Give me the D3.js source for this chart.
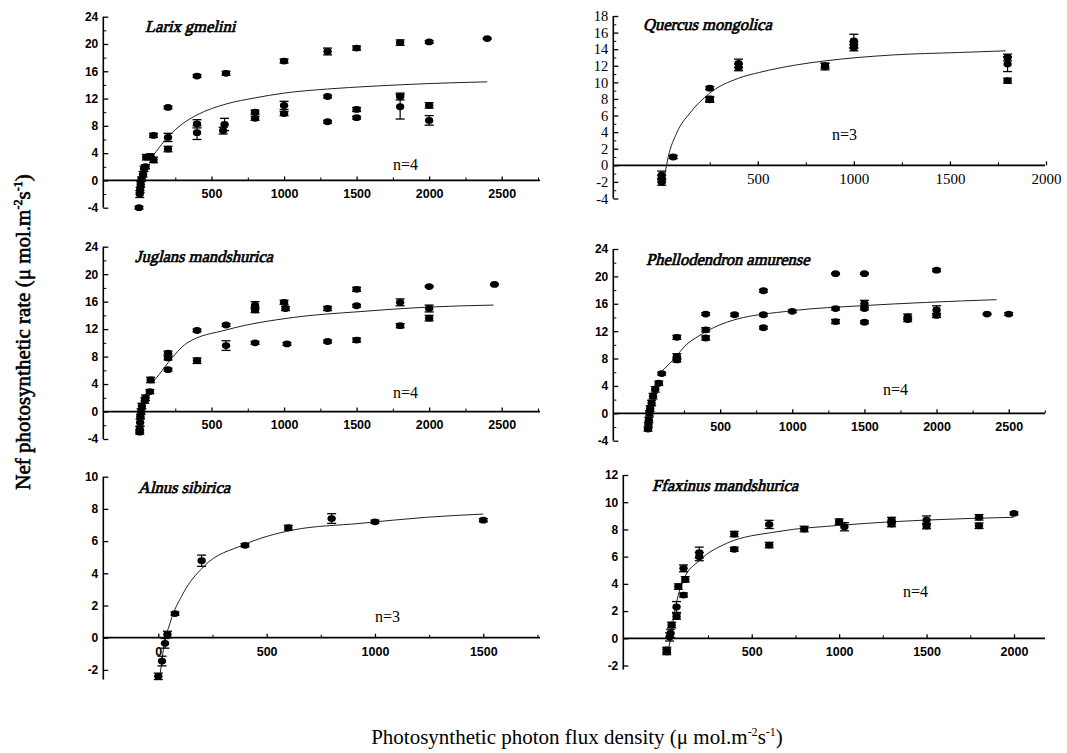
<!DOCTYPE html>
<html>
<head>
<meta charset="utf-8">
<script src="https://cdn.jsdelivr.net/npm/d3@7/dist/d3.min.js"></script>
<style>
  body { margin: 0; background: #fff; }
</style>
</head>
<body>
<div id="chart"></div>
<script>
// light response curves, six species; points are [PPFD, Pn, error]
const titles = ["Larix gmelini", "Quercus mongolica", "Juglans mandshurica",
                "Phellodendron amurense", "Alnus sibirica", "Ffaxinus mandshurica"]
const notes = ["n=4", "n=3", "n=4", "n=4", "n=3", "n=4"]

const larixPts = [[0,-4.0,0.2],[5,-2.0,0.5],[8,-1.4,0.4],[12,-0.6,0.4],[18,0.2,0.3],[28,0.9,0.4],
  [35,1.7,0.4],[45,2.0,0.3],[50,3.4,0.4],[80,3.5,0.4],[100,3.0,0.4],[100,6.6,0.3],
  [200,10.7,0.2],[200,6.3,0.6],[200,4.6,0.4],[400,15.3,0.2],[400,8.3,0.6],[400,7.0,1.0],
  [600,15.7,0.3],[590,8.2,0.9],[580,7.3,0.5],[800,10.0,0.3],[800,9.1,0.3],
  [1000,17.5,0.3],[1000,11.0,0.6],[1000,9.8,0.3],[1300,18.9,0.5],[1300,12.3,0.2],[1300,8.6,0.2],
  [1500,19.4,0.3],[1500,10.4,0.3],[1500,9.2,0.2],[1800,20.2,0.4],[1800,12.3,0.5],[1800,10.8,1.8],
  [2000,20.3,0.2],[2000,11.0,0.4],[2000,8.8,0.7],[2400,20.8,0.1]]
const larixFit = [[110,4.0],[200,6.4],[300,8.3],[400,9.6],[600,11.2],[800,12.1],[1000,12.8],
  [1300,13.4],[1600,13.8],[2000,14.2],[2400,14.45]]

const quercusPts = [[0,-1.2,0.5],[0,-1.6,0.4],[0,-2.0,0.4],[60,1.0,0.2],[250,9.3,0.2],[250,8.0,0.3],
  [250,7.9,0.3],[400,12.3,0.5],[400,11.8,0.4],[850,11.9,0.4],[850,12.0,0.3],[1000,15.0,0.8],
  [1000,14.5,0.4],[1000,14.2,0.4],[1800,13.0,0.4],[1800,12.2,0.9],[1800,10.2,0.3]]
const quercusFit = [[5,-2.5],[17,-1.0],[34,1.0],[78,3.9],[147,6.3],[250,8.7],[400,10.5],
  [509,11.2],[700,12.1],[855,12.6],[1200,13.3],[1546,13.6],[1790,13.8]]

const juglansPts = [[5,-3.0,0.3],[5,-2.6,0.4],[8,-1.6,0.5],[10,-0.7,0.3],[15,0.0,0.4],[20,0.8,0.4],
  [40,1.6,0.4],[45,2.0,0.4],[75,2.9,0.3],[80,4.6,0.4],[200,8.5,0.3],[200,7.8,0.3],[200,6.1,0.2],
  [400,11.8,0.2],[400,7.4,0.4],[600,12.6,0.2],[600,9.6,0.7],[800,15.5,0.5],[800,14.8,0.4],
  [800,10.0,0.2],[1000,15.9,0.3],[1010,15.0,0.3],[1020,9.85,0.2],[1300,15.0,0.3],[1300,10.2,0.2],
  [1500,17.8,0.3],[1500,15.4,0.2],[1500,10.4,0.3],[1800,15.9,0.5],[1800,12.5,0.3],
  [2000,18.2,0.1],[2000,15.0,0.5],[2000,13.6,0.4],[2450,18.5,0.1]]
const juglansFit = [[90,4.2],[120,4.9],[200,7.1],[329,9.95],[605,11.9],[1064,13.7],[1524,14.55],
  [1984,15.2],[2444,15.5]]

const phelloPts = [[0,-2.3,0.3],[3,-1.7,0.4],[6,-1.0,0.4],[10,0.0,0.4],[15,0.7,0.4],[25,1.5,0.4],
  [35,2.5,0.4],[50,3.5,0.4],[75,4.4,0.3],[95,5.8,0.2],[200,11.1,0.3],[200,8.3,0.4],[200,7.8,0.3],
  [400,14.5,0.2],[400,12.2,0.3],[400,11.0,0.3],[600,14.4,0.2],[800,17.9,0.2],[800,14.4,0.2],
  [800,12.5,0.2],[1000,14.9,0.2],[1300,20.4,0.1],[1300,15.3,0.2],[1300,13.4,0.3],
  [1500,20.4,0.1],[1500,16.0,0.5],[1500,15.3,0.2],[1500,13.3,0.2],[1800,14.1,0.4],[1800,13.7,0.3],
  [2000,20.9,0.2],[2000,15.1,0.6],[2000,14.3,0.3],[2350,14.5,0.1],[2500,14.5,0.2]]
const phelloFit = [[83,5.9],[199,8.4],[250,9.7],[360,11.4],[545,13.3],[1007,15.0],[1469,15.7],
  [1931,16.2],[2416,16.6]]

const alnusPts = [[0,-2.4,0.2],[17,-1.45,0.3],[31,-0.35,0.3],[42,0.2,0.2],[77,1.5,0.1],
  [200,4.78,0.35],[400,5.74,0.1],[600,6.83,0.15],[800,7.4,0.3],[1000,7.2,0.1],[1500,7.3,0.1]]
const alnusFit = [[8,-2.3],[17,-1.4],[23,-0.76],[54,0.9],[115,2.76],[208,4.4],[392,5.76],
  [623,6.69],[931,7.1],[1238,7.48],[1500,7.68]]

const fraxPts = [[14,-0.86,0.2],[14,-1.0,0.2],[30,0.1,0.3],[36,0.37,0.3],[42,0.98,0.2],
  [70,1.6,0.2],[70,2.3,0.4],[80,3.8,0.2],[110,3.18,0.15],[120,4.33,0.2],[110,5.14,0.25],
  [200,6.3,0.4],[200,6.0,0.3],[400,7.66,0.2],[400,6.54,0.15],[600,8.37,0.3],[600,6.85,0.2],
  [800,8.03,0.2],[1000,8.57,0.2],[1030,8.2,0.3],[1300,8.69,0.2],[1300,8.4,0.2],
  [1500,8.69,0.3],[1500,8.25,0.2],[1800,8.89,0.2],[1800,8.27,0.2],[2000,9.18,0.1]]
const fraxFit = [[20,-1.0],[33,-0.24],[61,2.08],[109,4.28],[204,5.75],[357,6.98],[643,7.83],
  [1024,8.32],[1501,8.69],[1997,8.89]]

const xTicks2500 = [500, 1000, 1500, 2000, 2500]
const xTicks2000 = [500, 1000, 1500, 2000]
const xTicks1500 = [0, 500, 1000, 1500]
const yTicks24 = [-4, 0, 4, 8, 12, 16, 20, 24]
const yTicks18 = [-4, -2, 0, 2, 4, 6, 8, 10, 12, 14, 16, 18]
const yTicks10 = [-2, 0, 2, 4, 6, 8, 10]
const yTicks12 = [-2, 0, 2, 4, 6, 8, 10, 12]

const W = 1067, H = 753
const serif = "'Liberation Serif', 'Times New Roman', serif"

// layout of each panel (pixel anchors for the axis frame)
const panels = [
  {i:0, pts:larixPts, fit:larixFit, xt:xTicks2500, yt:yTicks24, ym:2,
   xr:[0,2500,139,501.7], yr:[-4,24,207.7,16.7], left:103.3, right:540, ybot:-4,
   serif:false, tp:[145,32], np:[393,170]},
  {i:1, pts:quercusPts, fit:quercusFit, xt:xTicks2000, yt:yTicks18, ym:1,
   xr:[0,2000,661.7,1046], yr:[-4,18,198.5,16], left:613.3, right:1045, ybot:-4,
   serif:true, tp:[643,30], np:[832,140]},
  {i:2, pts:juglansPts, fit:juglansFit, xt:xTicks2500, yt:yTicks24, ym:2,
   xr:[0,2500,139,501.7], yr:[-4,24,439,246.7], left:103.3, right:540, ybot:-4,
   serif:false, tp:[135,262], np:[393,398]},
  {i:3, pts:phelloPts, fit:phelloFit, xt:xTicks2500, yt:yTicks24, ym:2,
   xr:[0,2500,648,1008.7], yr:[-4,24,440.7,249], left:613.3, right:1045, ybot:-4,
   serif:false, tp:[646,265], np:[883,395]},
  {i:4, pts:alnusPts, fit:alnusFit, xt:xTicks1500, yt:yTicks10, ym:1,
   xr:[0,1500,158.3,483.3], yr:[0,10,637.7,476.7], left:103.3, right:540, ybot:-2.6,
   serif:false, tp:[138,493], np:[375,622]},
  {i:5, pts:fraxPts, fit:fraxFit, xt:xTicks2000, yt:yTicks12, ym:1,
   xr:[0,2000,664.3,1014], yr:[0,12,638.3,475], left:623.3, right:1045, ybot:-2.3,
   serif:false, tp:[652,491], np:[903,597]}
]

const svg = d3.select("#chart").append("svg")
  .attr("width", W).attr("height", H)
  .style("background", "#fff")

panels.forEach(p => {
  const g = svg.append("g")
  const x = d3.scaleLinear().domain([p.xr[0], p.xr[1]]).range([p.xr[2], p.xr[3]])
  const y = d3.scaleLinear().domain([p.yr[0], p.yr[1]]).range([p.yr[2], p.yr[3]])
  const yTop = d3.max(p.yt)
  const x1 = x.invert(p.right)

  const lblFont = p.serif ? serif : "'Liberation Sans', Arial, sans-serif"
  const lblWeight = p.serif ? "normal" : "bold"

  // y axis: ticks point inward
  const yMinor = []
  for (let v = p.ybot; v <= yTop + 1e-9; v += p.ym) yMinor.push(Math.round(v * 10) / 10)
  g.append("g").attr("transform", `translate(${p.left},0)`)
    .call(d3.axisLeft(y).tickValues(yMinor.filter(v => !p.yt.includes(v) && Number.isInteger(v))).tickSize(-3).tickFormat(""))
    .call(a => a.select(".domain").remove())
  const ya = g.append("g").attr("transform", `translate(${p.left},0)`)
    .call(d3.axisLeft(y).tickValues(p.yt).tickSize(-5).tickPadding(5).tickFormat(d => d < 0 ? "-" + (-d) : String(d)))
  ya.select(".domain").remove()
  ya.selectAll("text").attr("font-family", lblFont).attr("font-weight", lblWeight)
    .attr("font-size", p.serif ? 14.5 : 12).attr("fill", "#000")
  ya.selectAll("line").attr("stroke", "#000").attr("stroke-width", 1.3)
  g.append("line").attr("x1", p.left).attr("x2", p.left)
    .attr("y1", y(p.ybot)).attr("y2", y(yTop))
    .attr("stroke", "#000").attr("stroke-width", 1.6)

  // x axis along y = 0, ticks pointing up
  const y0 = y(0)
  const xMinor = []
  for (let v = 250; v < x1; v += 500) xMinor.push(v)
  g.append("g").attr("transform", `translate(0,${y0})`)
    .call(d3.axisBottom(x).tickValues(xMinor).tickSize(-3).tickFormat(""))
    .call(a => a.select(".domain").remove())
  const xa = g.append("g").attr("transform", `translate(0,${y0})`)
    .call(d3.axisBottom(x).tickValues(p.xt).tickSize(-4).tickPadding(p.serif ? 8 : 9).tickFormat(d => String(d)))
  xa.select(".domain").remove()
  xa.selectAll("text").attr("font-family", lblFont).attr("font-weight", lblWeight)
    .attr("font-size", p.serif ? 15 : 12.5).attr("fill", "#000")
  xa.selectAll("line").attr("stroke", "#000").attr("stroke-width", 1.3)
  g.append("line").attr("x1", p.left).attr("x2", p.right)
    .attr("y1", y0).attr("y2", y0)
    .attr("stroke", "#000").attr("stroke-width", 1.8)

  // fitted curve
  g.append("path").datum(p.fit)
    .attr("fill", "none").attr("stroke", "#222").attr("stroke-width", 1)
    .attr("d", d3.line().x(d => x(d[0])).y(d => y(d[1])).curve(d3.curveMonotoneX))

  // error bars and points
  const pt = g.append("g").selectAll("g").data(p.pts).enter().append("g")
  pt.append("line")
    .attr("x1", d => x(d[0])).attr("x2", d => x(d[0]))
    .attr("y1", d => y(d[1] - d[2])).attr("y2", d => y(d[1] + d[2]))
    .attr("stroke", "#000").attr("stroke-width", 1.2)
  pt.selectAll(".cap").data(d => [[d[0], d[1] - d[2]], [d[0], d[1] + d[2]]]).enter()
    .append("line").attr("class", "cap")
    .attr("x1", d => x(d[0]) - 4.5).attr("x2", d => x(d[0]) + 4.5)
    .attr("y1", d => y(d[1])).attr("y2", d => y(d[1]))
    .attr("stroke", "#000").attr("stroke-width", 1.3)
  pt.append("ellipse")
    .attr("cx", d => x(d[0])).attr("cy", d => y(d[1]))
    .attr("rx", 4.2).attr("ry", 3.4).attr("fill", "#000")

  // species name: upright serif slanted by a skew and thickened with a stroke
  g.append("text")
    .attr("transform", `translate(${p.tp[0]},${p.tp[1]}) skewX(-14)`)
    .attr("font-family", serif)
    .attr("stroke", "#000").attr("stroke-width", 0.7)
    .attr("font-size", 16.5).text(titles[p.i])
  g.append("text").attr("x", p.np[0]).attr("y", p.np[1])
    .attr("font-family", serif).attr("fill", "#000")
    .attr("font-size", 16).text(notes[p.i])
})

// shared axis titles
const yl = svg.append("text")
  .attr("transform", "translate(30,332) rotate(-90)")
  .attr("text-anchor", "middle")
  .attr("font-family", serif)
  .attr("stroke", "#000").attr("stroke-width", 0.6)
  .attr("font-size", 21)
yl.append("tspan").text("Nef photosynthetic rate (")
yl.append("tspan").text("μ")
yl.append("tspan").text(" mol.m")
yl.append("tspan").attr("font-size", 12).attr("dy", -8).text("-2")
yl.append("tspan").attr("dy", 8).text("s")
yl.append("tspan").attr("font-size", 12).attr("dy", -8).text("-1")
yl.append("tspan").attr("dy", 8).text(")")

const xl = svg.append("text")
  .attr("x", 577).attr("y", 744)
  .attr("text-anchor", "middle")
  .attr("font-family", serif)
  .attr("font-size", 21)
xl.append("tspan").text("Photosynthetic photon flux density (")
xl.append("tspan").text("μ")
xl.append("tspan").text(" mol.m")
xl.append("tspan").attr("font-size", 12).attr("dy", -8).text("-2")
xl.append("tspan").attr("dy", 8).text("s")
xl.append("tspan").attr("font-size", 12).attr("dy", -8).text("-1")
xl.append("tspan").attr("dy", 8).text(")")
</script>
</body>
</html>
